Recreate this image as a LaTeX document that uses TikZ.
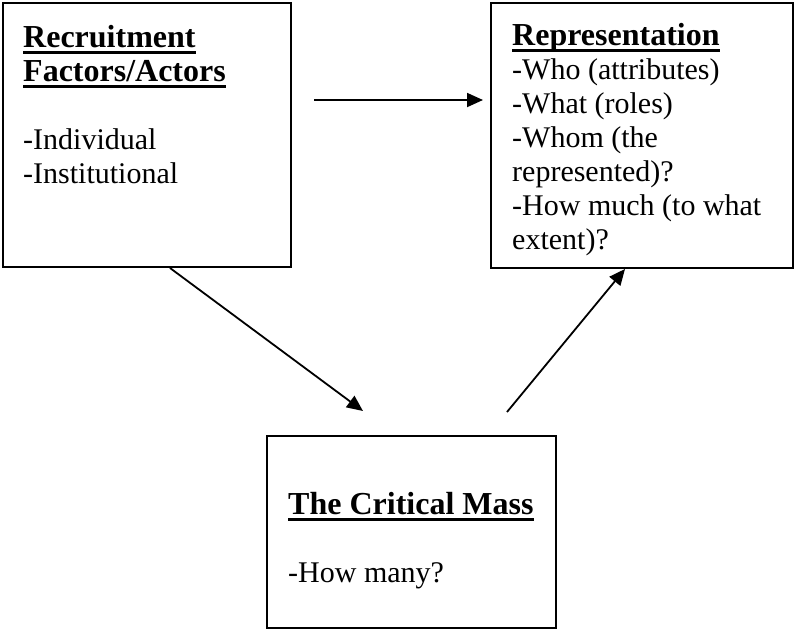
\documentclass[tikz,border=0pt]{standalone}
\usepackage{fontspec}
\setmainfont{Liberation Serif}
\usetikzlibrary{arrows.meta}
\newcommand{\headline}[1]{{\fontsize{32}{34}\selectfont\bfseries\setbox0=\hbox{#1}\rlap{\rule[-7pt]{\wd0}{3pt}}\box0}}

\begin{document}
\begin{tikzpicture}[x=1pt,y=-1pt,
  box/.style={draw,line width=2pt,inner sep=0pt},
  txt/.style={anchor=base west,align=left,inner sep=0pt,font=\fontsize{30}{34}\selectfont},
  link/.style={line width=1.8pt,-{Triangle[length=16pt,width=14pt]}}]
\useasboundingbox (0,0) rectangle (795,630);
\node[box,minimum width=288pt,minimum height=264pt] (rec) at (147,135) {};
\node[box,minimum width=302pt,minimum height=265pt] (rep) at (642,135.5) {};
\node[box,minimum width=289pt,minimum height=192pt] (mass) at (411.5,532) {};
% texts sit on the baseline of their last line
\node[txt] (rectxt) at (23,183) {\headline{Recruitment}\\\headline{Factors/Actors}\\[34pt]-Individual\\-Institutional};
\node[txt] (reptxt) at (512,249) {\headline{Representation}\\-Who (attributes)\\-What (roles)\\-Whom (the\\represented)?\\-How much (to what\\extent)?};
\node[txt] (masstxt) at (288,582) {\headline{The Critical Mass}\\[34pt]-How many?};
% free ends of the links
\coordinate (recout) at (314,100);
\coordinate (repin) at (483,100);
\coordinate (massin) at (363,411);
\coordinate (massout) at (507,412);
\draw[link] (recout) -- (repin);
\draw[link] ([xshift=23pt]rec.south) -- (massin);
\draw[link] (massout) -- ([xshift=-17pt]rep.south);
\end{tikzpicture}
\end{document}
